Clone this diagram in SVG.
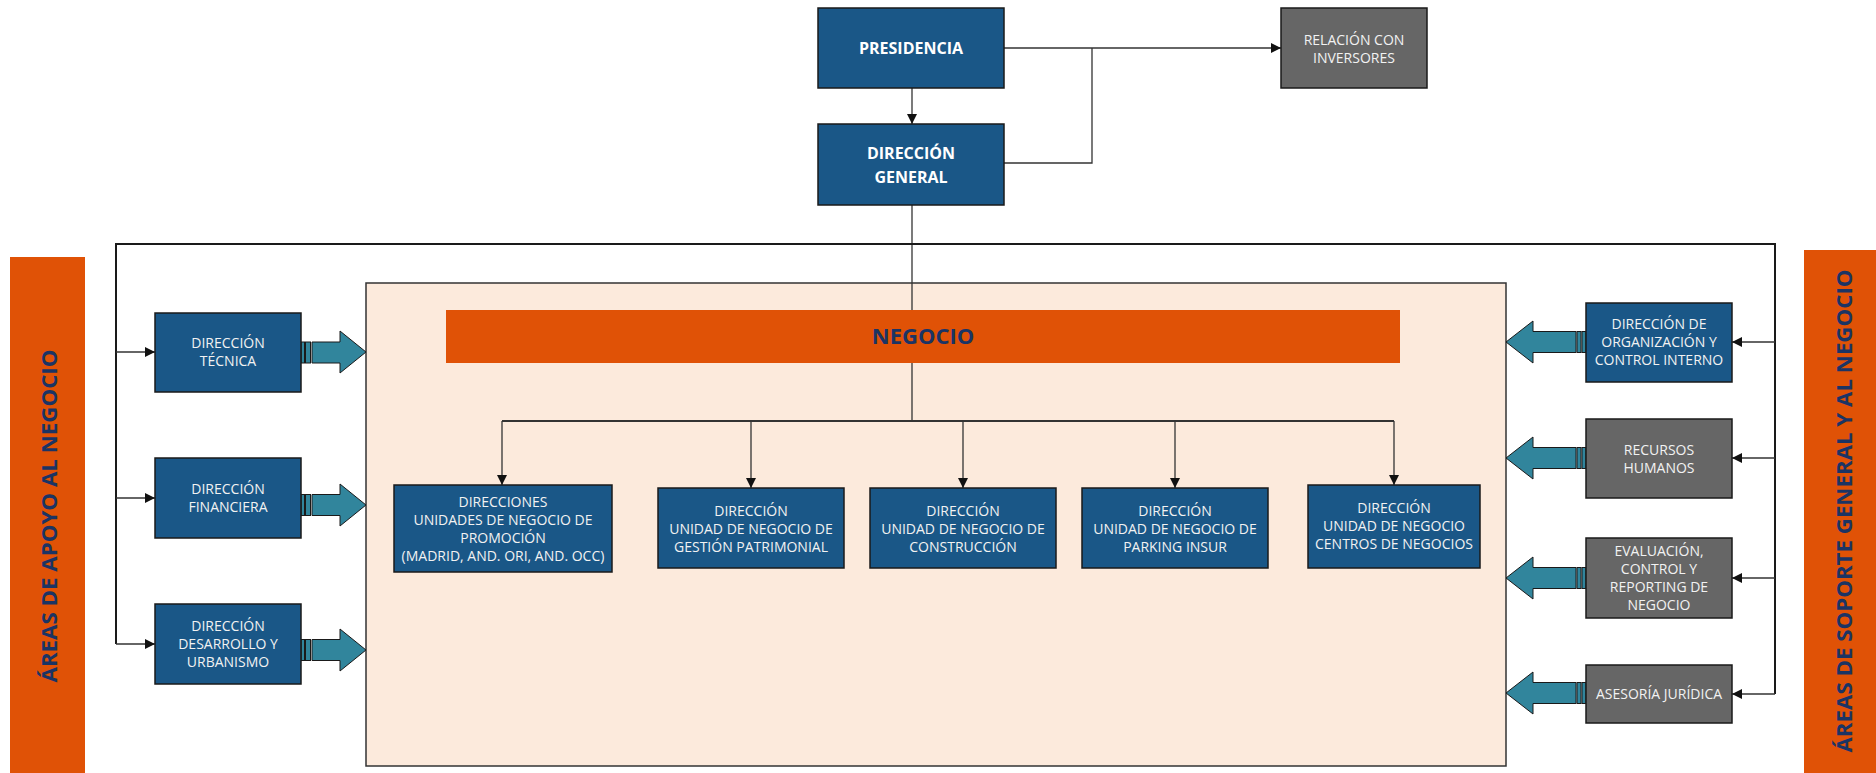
<svg xmlns="http://www.w3.org/2000/svg" width="1876" height="773" viewBox="0 0 1876 773">
<defs>
<style>
.navy{fill:#1A5787;stroke:#1a1a1a;stroke-width:1.5}
.gray{fill:#666666;stroke:#1a1a1a;stroke-width:1.5}
.t{font-family:"Open Sans","Noto Sans","DejaVu Sans",sans-serif;font-size:14px;fill:#F2F2F2;text-anchor:middle}
.tb{font-family:"Open Sans","Noto Sans","DejaVu Sans",sans-serif;font-size:16px;font-weight:bold;fill:#FFFFFF;text-anchor:middle}
.side{font-family:"Open Sans","Noto Sans","DejaVu Sans",sans-serif;font-size:22px;font-weight:bold;fill:#1B3464;text-anchor:middle}
.c{fill:none;stroke:#333333;stroke-width:1.3}
.ca{fill:none;stroke:#333333;stroke-width:1.3;marker-end:url(#ah)}
.blk{fill:#31859C;stroke:#1a1a1a;stroke-width:1}
</style>
<marker id="ah" markerUnits="userSpaceOnUse" markerWidth="10" markerHeight="10" refX="10" refY="5" orient="auto">
<path d="M0,0 L10,5 L0,10 z" fill="#111111"/>
</marker>
</defs>

<rect width="1876" height="773" fill="#FFFFFF"/>

<g id="side-left">
<rect x="10" y="257" width="75" height="516" fill="#E05206"/>
<text class="side" transform="translate(57,516) rotate(-90)" textLength="333" lengthAdjust="spacingAndGlyphs">ÁREAS DE APOYO AL NEGOCIO</text>
</g>
<g id="side-right">
<rect x="1804" y="250" width="72" height="523" fill="#E05206"/>
<text class="side" transform="translate(1852,511) rotate(-90)" textLength="483" lengthAdjust="spacingAndGlyphs">ÁREAS DE SOPORTE GENERAL Y AL NEGOCIO</text>
</g>

<g id="negocio-area">
<rect x="366" y="283" width="1140" height="483" fill="#FCEADC" stroke="#333333" stroke-width="1.5"/>
</g>

<g id="connectors">
<line class="ca" x1="912" y1="88" x2="912" y2="124"/>
<line class="ca" x1="1004" y1="48" x2="1281" y2="48"/>
<polyline class="c" points="1004,163 1092,163 1092,48"/>
<line class="c" x1="912" y1="205" x2="912" y2="310"/>
<polyline class="c" points="116,644 116,244 1775,244 1775,694" style="stroke:#1a1a1a;stroke-width:2"/>
<line class="ca" x1="116" y1="352" x2="155" y2="352"/>
<line class="ca" x1="116" y1="498" x2="155" y2="498"/>
<line class="ca" x1="116" y1="644" x2="155" y2="644"/>
<line class="ca" x1="1775" y1="342" x2="1732" y2="342"/>
<line class="ca" x1="1775" y1="458" x2="1732" y2="458"/>
<line class="ca" x1="1775" y1="578" x2="1732" y2="578"/>
<line class="ca" x1="1775" y1="694" x2="1732" y2="694"/>
<line class="c" x1="912" y1="363" x2="912" y2="421"/>
<line class="c" x1="502" y1="421" x2="1394" y2="421" style="stroke-width:2"/>
<line class="ca" x1="502" y1="421" x2="502" y2="485"/>
<line class="ca" x1="751" y1="421" x2="751" y2="488"/>
<line class="ca" x1="963" y1="421" x2="963" y2="488"/>
<line class="ca" x1="1175" y1="421" x2="1175" y2="488"/>
<line class="ca" x1="1394" y1="421" x2="1394" y2="485"/>
</g>

<g id="block-arrows">
<rect class="blk" x="301" y="342" width="3.5" height="21"/><rect class="blk" x="305.5" y="342" width="5" height="21"/>
<polygon class="blk" points="312,342 340,342 340,331 366,352 340,373 340,363 312,363"/>
<rect class="blk" x="301" y="494.5" width="3.5" height="21"/><rect class="blk" x="305.5" y="494.5" width="5" height="21"/>
<polygon class="blk" points="312,494.5 340,494.5 340,484 366,505 340,526 340,515.5 312,515.5"/>
<rect class="blk" x="301" y="639.5" width="3.5" height="21"/><rect class="blk" x="305.5" y="639.5" width="5" height="21"/>
<polygon class="blk" points="312,639.5 340,639.5 340,629 366,650 340,671 340,660.5 312,660.5"/>

<rect class="blk" x="1577" y="331.5" width="4" height="21"/><rect class="blk" x="1582" y="331.5" width="4" height="21"/>
<polygon class="blk" points="1506,342 1533,321 1533,331.5 1576,331.5 1576,352.5 1533,352.5 1533,363"/>
<rect class="blk" x="1577" y="447.5" width="4" height="21"/><rect class="blk" x="1582" y="447.5" width="4" height="21"/>
<polygon class="blk" points="1506,458 1533,437 1533,447.5 1576,447.5 1576,468.5 1533,468.5 1533,479"/>
<rect class="blk" x="1577" y="567.5" width="4" height="21"/><rect class="blk" x="1582" y="567.5" width="4" height="21"/>
<polygon class="blk" points="1506,578 1533,557 1533,567.5 1576,567.5 1576,588.5 1533,588.5 1533,599"/>
<rect class="blk" x="1577" y="682.5" width="4" height="21"/><rect class="blk" x="1582" y="682.5" width="4" height="21"/>
<polygon class="blk" points="1506,693 1533,672 1533,682.5 1576,682.5 1576,703.5 1533,703.5 1533,714"/>
</g>

<g id="presidencia">
<rect class="navy" x="818" y="8" width="186" height="80"/>
<text class="tb" x="911" y="54">PRESIDENCIA</text>
</g>
<g id="direccion-general">
<rect class="navy" x="818" y="124" width="186" height="81"/>
<text class="tb" x="911" y="159">DIRECCIÓN</text>
<text class="tb" x="911" y="183">GENERAL</text>
</g>
<g id="relacion-inversores">
<rect class="gray" x="1281" y="8" width="146" height="80"/>
<text class="t" x="1354" y="45">RELACIÓN CON</text>
<text class="t" x="1354" y="63">INVERSORES</text>
</g>

<g id="negocio">
<rect x="446" y="310" width="954" height="53" fill="#E05206"/>
<text class="side" x="923" y="344">NEGOCIO</text>
</g>

<g id="direccion-tecnica">
<rect class="navy" x="155" y="313" width="146" height="79"/>
<text class="t" x="228" y="348">DIRECCIÓN</text>
<text class="t" x="228" y="366">TÉCNICA</text>
</g>
<g id="direccion-financiera">
<rect class="navy" x="155" y="458" width="146" height="80"/>
<text class="t" x="228" y="494">DIRECCIÓN</text>
<text class="t" x="228" y="512">FINANCIERA</text>
</g>
<g id="direccion-desarrollo">
<rect class="navy" x="155" y="604" width="146" height="80"/>
<text class="t" x="228" y="631">DIRECCIÓN</text>
<text class="t" x="228" y="649">DESARROLLO Y</text>
<text class="t" x="228" y="667">URBANISMO</text>
</g>

<g id="direccion-organizacion">
<rect class="navy" x="1586" y="303" width="146" height="79"/>
<text class="t" x="1659" y="329">DIRECCIÓN DE</text>
<text class="t" x="1659" y="347">ORGANIZACIÓN Y</text>
<text class="t" x="1659" y="365">CONTROL INTERNO</text>
</g>
<g id="recursos-humanos">
<rect class="gray" x="1586" y="419" width="146" height="79"/>
<text class="t" x="1659" y="455">RECURSOS</text>
<text class="t" x="1659" y="473">HUMANOS</text>
</g>
<g id="evaluacion">
<rect class="gray" x="1586" y="538" width="146" height="80"/>
<text class="t" x="1659" y="556">EVALUACIÓN,</text>
<text class="t" x="1659" y="574">CONTROL Y</text>
<text class="t" x="1659" y="592">REPORTING DE</text>
<text class="t" x="1659" y="610">NEGOCIO</text>
</g>
<g id="asesoria-juridica">
<rect class="gray" x="1586" y="665" width="146" height="58"/>
<text class="t" x="1659" y="699">ASESORÍA JURÍDICA</text>
</g>

<g id="un-promocion">
<rect class="navy" x="394" y="485" width="218" height="87"/>
<text class="t" x="503" y="507">DIRECCIONES</text>
<text class="t" x="503" y="525">UNIDADES DE NEGOCIO DE</text>
<text class="t" x="503" y="543">PROMOCIÓN</text>
<text class="t" x="503" y="561">(MADRID, AND. ORI, AND. OCC)</text>
</g>
<g id="un-gestion">
<rect class="navy" x="658" y="488" width="186" height="80"/>
<text class="t" x="751" y="516">DIRECCIÓN</text>
<text class="t" x="751" y="534">UNIDAD DE NEGOCIO DE</text>
<text class="t" x="751" y="552">GESTIÓN PATRIMONIAL</text>
</g>
<g id="un-construccion">
<rect class="navy" x="870" y="488" width="186" height="80"/>
<text class="t" x="963" y="516">DIRECCIÓN</text>
<text class="t" x="963" y="534">UNIDAD DE NEGOCIO DE</text>
<text class="t" x="963" y="552">CONSTRUCCIÓN</text>
</g>
<g id="un-parking">
<rect class="navy" x="1082" y="488" width="186" height="80"/>
<text class="t" x="1175" y="516">DIRECCIÓN</text>
<text class="t" x="1175" y="534">UNIDAD DE NEGOCIO DE</text>
<text class="t" x="1175" y="552">PARKING INSUR</text>
</g>
<g id="un-centros">
<rect class="navy" x="1308" y="485" width="172" height="83"/>
<text class="t" x="1394" y="513">DIRECCIÓN</text>
<text class="t" x="1394" y="531">UNIDAD DE NEGOCIO</text>
<text class="t" x="1394" y="549">CENTROS DE NEGOCIOS</text>
</g>
</svg>
